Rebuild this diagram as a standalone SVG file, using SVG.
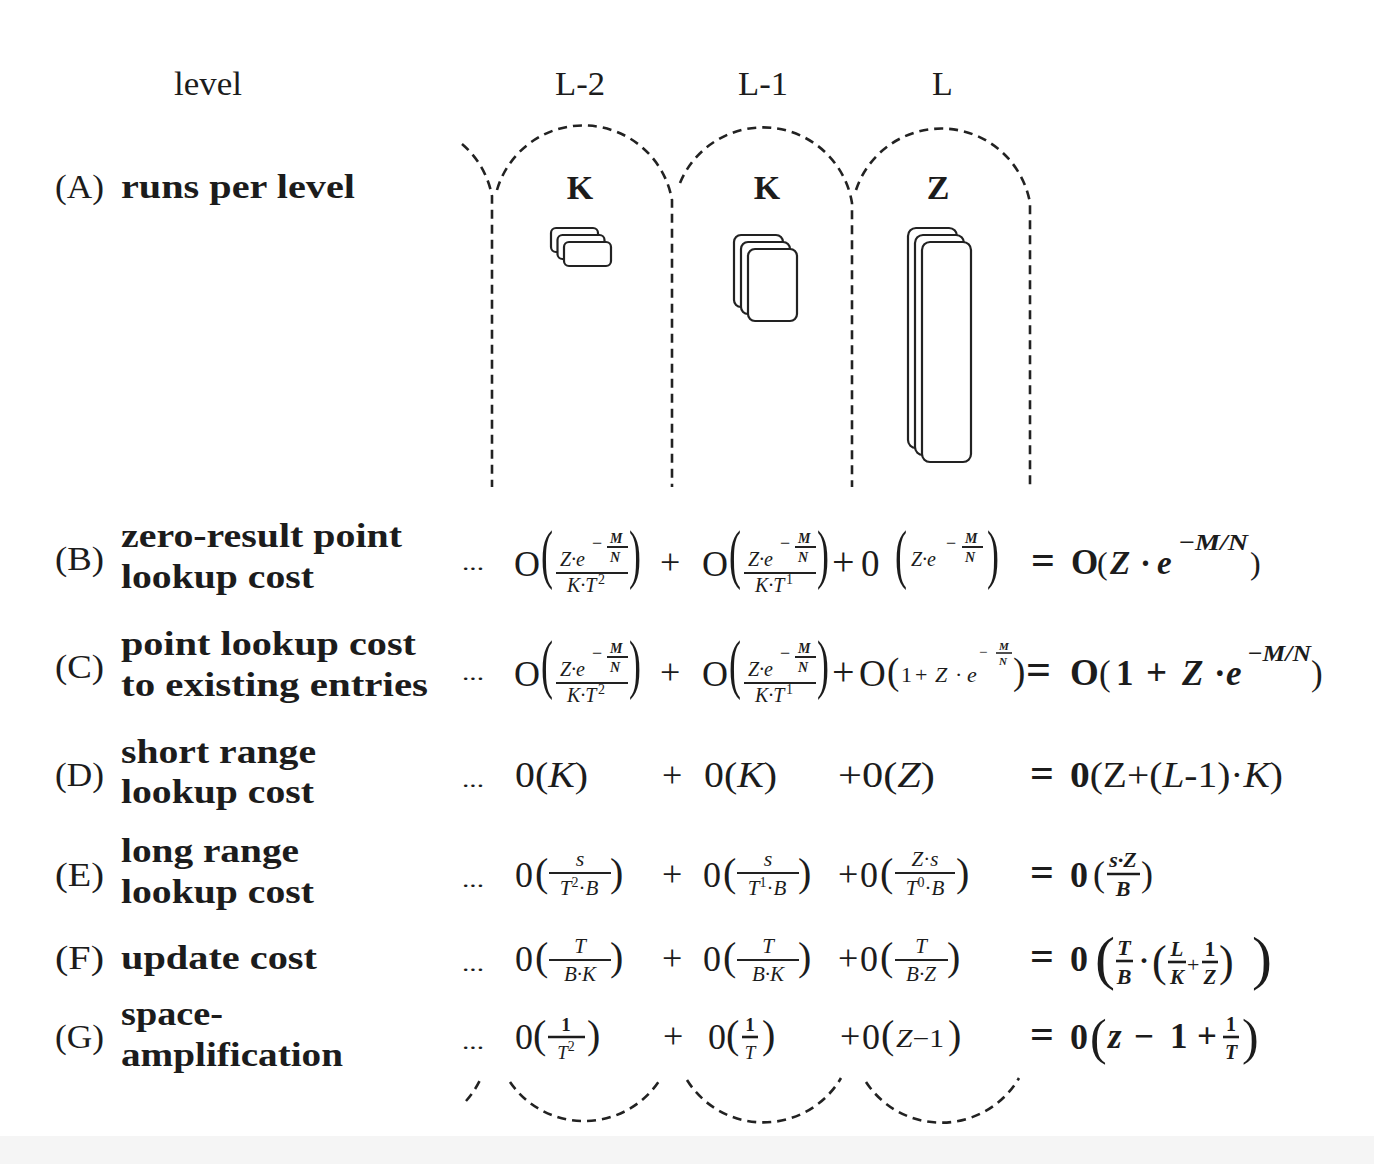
<svg xmlns="http://www.w3.org/2000/svg" width="1374" height="1164" viewBox="0 0 1374 1164">
<style>
text { font-family: "Liberation Serif", "DejaVu Serif", serif; fill: #1c1c1c; }
.lr { font-size: 34px; }
.lb { font-size: 34px; font-weight: bold; }
.hd { font-size: 34px; font-weight: bold; text-anchor: middle; }
.i { font-style: italic; }
.b { font-weight: bold; }
.mid { text-anchor: middle; }
.tp { font-size: 36px; }
.dash { fill: none; stroke: #222; stroke-width: 2.6; stroke-dasharray: 9 6; }
.run { fill: #fff; stroke: #222; stroke-width: 2.2; }
.bar { stroke: #222; stroke-width: 2; }
.bb { stroke: #1c1c1c; stroke-width: 2.6; }
</style>
<rect x="0" y="0" width="1374" height="1164" fill="#fff"/>
<rect x="0" y="1136" width="1374" height="28" fill="#f5f5f5"/>

<g id="boundaries">
  <path class="dash" d="M 462 144 A 90 90 0 0 1 492 196 V 487"/>
  <path class="dash" d="M 497 190 A 90 90 0 0 1 672 200 V 487"/>
  <path class="dash" d="M 680 183 A 90 90 0 0 1 852 203 V 487"/>
  <path class="dash" d="M 856 190 A 90 90 0 0 1 1030 203 V 487"/>
  <path class="dash" d="M 466 1101 A 90 90 0 0 0 481 1078"/>
  <path class="dash" d="M 510 1082 A 90 90 0 0 0 661 1078"/>
  <path class="dash" d="M 687 1080 A 90 90 0 0 0 841 1078"/>
  <path class="dash" d="M 866 1082 A 90 90 0 0 0 1019 1078"/>
</g>

<g id="header">
  <text class="lr" x="174" y="95" textLength="68" lengthAdjust="spacingAndGlyphs">level</text>
  <text class="lr" x="555" y="95" textLength="50" lengthAdjust="spacingAndGlyphs">L-2</text>
  <text class="lr" x="738" y="95" textLength="50" lengthAdjust="spacingAndGlyphs">L-1</text>
  <text class="lr" x="932" y="95">L</text>
</g>

<g id="col-L-2">
  <text class="hd" x="580" y="199">K</text>
  <rect class="run" x="551" y="228" width="47" height="24" rx="5"/>
  <rect class="run" x="557.5" y="235" width="47" height="24" rx="5"/>
  <rect class="run" x="564" y="242" width="47" height="24" rx="5"/>
</g>
<g id="col-L-1">
  <text class="hd" x="767" y="199">K</text>
  <rect class="run" x="734" y="235" width="49" height="72" rx="7"/>
  <rect class="run" x="741" y="242" width="49" height="72" rx="7"/>
  <rect class="run" x="748" y="249" width="49" height="72" rx="7"/>
</g>
<g id="col-L">
  <text class="hd" x="938" y="199">Z</text>
  <rect class="run" x="908" y="228" width="49" height="220" rx="8"/>
  <rect class="run" x="915" y="235" width="49" height="220" rx="8"/>
  <rect class="run" x="922" y="242" width="49" height="220" rx="8"/>
</g>

<g id="row-A">
  <text class="lr" x="55" y="198" textLength="49" lengthAdjust="spacingAndGlyphs">(A)</text>
  <text class="lb" x="121" y="198" textLength="234" lengthAdjust="spacingAndGlyphs">runs per level</text>
</g>

<g id="row-B">
  <text class="lr" x="55" y="570" textLength="49" lengthAdjust="spacingAndGlyphs">(B)</text>
  <text class="lb" x="121" y="547" textLength="281" lengthAdjust="spacingAndGlyphs">zero-result point</text>
  <text class="lb" x="121" y="588" textLength="193" lengthAdjust="spacingAndGlyphs">lookup cost</text>
  <text x="462" y="570" font-size="22" textLength="22" lengthAdjust="spacingAndGlyphs">...</text>
  <!-- term 1 -->
  <text x="514" y="576" font-size="36">O</text>
  <text class="tp" transform="translate(541,576) scale(1,1.8)">(</text>
  <text class="i" x="560" y="566" font-size="20">Z·e</text>
  <text x="592" y="549" font-size="18">−</text>
  <text class="i b" x="610" y="543" font-size="14">M</text>
  <line class="bar" x1="607" y1="547" x2="628" y2="547"/>
  <text class="i b" x="610" y="562" font-size="14">N</text>
  <line class="bar" x1="556" y1="573" x2="628" y2="573"/>
  <text class="i" x="567" y="592" font-size="20">K·T</text>
  <text x="598" y="584" font-size="14">2</text>
  <text class="tp" transform="translate(629,576) scale(1,1.8)">)</text>
  <text x="660" y="574" font-size="36">+</text>
  <!-- term 2 -->
  <text x="702" y="576" font-size="36">O</text>
  <text class="tp" transform="translate(729,576) scale(1,1.8)">(</text>
  <text class="i" x="748" y="566" font-size="20">Z·e</text>
  <text x="780" y="549" font-size="18">−</text>
  <text class="i b" x="798" y="543" font-size="14">M</text>
  <line class="bar" x1="795" y1="547" x2="816" y2="547"/>
  <text class="i b" x="798" y="562" font-size="14">N</text>
  <line class="bar" x1="744" y1="573" x2="816" y2="573"/>
  <text class="i" x="755" y="592" font-size="20">K·T</text>
  <text x="786" y="584" font-size="14">1</text>
  <text class="tp" transform="translate(817,576) scale(1,1.8)">)</text>
  <!-- term 3 -->
  <text x="832" y="575" font-size="40">+</text>
  <text x="861" y="576" font-size="37">0</text>
  <text class="tp" transform="translate(895,576) scale(1,1.8)">(</text>
  <text class="i" x="911" y="566" font-size="20">Z·e</text>
  <text x="946" y="549" font-size="18">−</text>
  <text class="i b" x="965" y="543" font-size="14">M</text>
  <line class="bar" x1="962" y1="547" x2="983" y2="547"/>
  <text class="i b" x="965" y="562" font-size="14">N</text>
  <text class="tp" transform="translate(987,576) scale(1,1.8)">)</text>
  <!-- result -->
  <text class="b" x="1031" y="574" font-size="42">=</text>
  <text class="b" x="1071" y="574" font-size="35">O</text>
  <text x="1097" y="574" font-size="32">(</text>
  <text class="i b" x="1110" y="574" font-size="33">Z</text>
  <text class="b" x="1140" y="574" font-size="33">·</text>
  <text class="i b" x="1157" y="574" font-size="33">e</text>
  <text class="i b" x="1178" y="550" font-size="23" textLength="70" lengthAdjust="spacingAndGlyphs">−M/N</text>
  <text x="1250" y="574" font-size="32">)</text>
</g>

<g id="row-C">
  <text class="lr" x="55" y="678" textLength="49" lengthAdjust="spacingAndGlyphs">(C)</text>
  <text class="lb" x="121" y="655" textLength="295" lengthAdjust="spacingAndGlyphs">point lookup cost</text>
  <text class="lb" x="121" y="696" textLength="307" lengthAdjust="spacingAndGlyphs">to existing entries</text>
  <text x="462" y="680" font-size="22" textLength="22" lengthAdjust="spacingAndGlyphs">...</text>
  <!-- term 1 -->
  <text x="514" y="686" font-size="36">O</text>
  <text class="tp" transform="translate(541,686) scale(1,1.8)">(</text>
  <text class="i" x="560" y="676" font-size="20">Z·e</text>
  <text x="592" y="659" font-size="18">−</text>
  <text class="i b" x="610" y="653" font-size="14">M</text>
  <line class="bar" x1="607" y1="657" x2="628" y2="657"/>
  <text class="i b" x="610" y="672" font-size="14">N</text>
  <line class="bar" x1="556" y1="683" x2="628" y2="683"/>
  <text class="i" x="567" y="702" font-size="20">K·T</text>
  <text x="598" y="694" font-size="14">2</text>
  <text class="tp" transform="translate(629,686) scale(1,1.8)">)</text>
  <text x="660" y="684" font-size="36">+</text>
  <!-- term 2 -->
  <text x="702" y="686" font-size="36">O</text>
  <text class="tp" transform="translate(729,686) scale(1,1.8)">(</text>
  <text class="i" x="748" y="676" font-size="20">Z·e</text>
  <text x="780" y="659" font-size="18">−</text>
  <text class="i b" x="798" y="653" font-size="14">M</text>
  <line class="bar" x1="795" y1="657" x2="816" y2="657"/>
  <text class="i b" x="798" y="672" font-size="14">N</text>
  <line class="bar" x1="744" y1="683" x2="816" y2="683"/>
  <text class="i" x="755" y="702" font-size="20">K·T</text>
  <text x="786" y="694" font-size="14">1</text>
  <text class="tp" transform="translate(817,686) scale(1,1.8)">)</text>
  <!-- term 3 -->
  <text x="832" y="685" font-size="40">+</text>
  <text x="859" y="686" font-size="37">O</text>
  <text x="887" y="684" font-size="37">(</text>
  <text x="901" y="682" font-size="22">1</text>
  <text x="915" y="682" font-size="22">+</text>
  <text class="i" x="935" y="682" font-size="22">Z</text>
  <text x="955" y="682" font-size="22">·</text>
  <text class="i" x="967" y="682" font-size="22">e</text>
  <text x="979" y="657" font-size="15">−</text>
  <text class="i b" x="999" y="650" font-size="11">M</text>
  <line x1="996" y1="653" x2="1012" y2="653" stroke="#222" stroke-width="1.6"/>
  <text class="i b" x="999" y="665" font-size="11">N</text>
  <text x="1013" y="684" font-size="37">)</text>
  <!-- result -->
  <text class="b" x="1026" y="684" font-size="44">=</text>
  <text class="b" x="1070" y="685" font-size="37">O</text>
  <text x="1099" y="685" font-size="35">(</text>
  <text class="b" x="1116" y="685" font-size="35">1</text>
  <text class="b" x="1146" y="685" font-size="37">+</text>
  <text class="i b" x="1182" y="685" font-size="35">Z</text>
  <text class="b" x="1214" y="685" font-size="35">·</text>
  <text class="i b" x="1226" y="685" font-size="35">e</text>
  <text class="i b" x="1247" y="661" font-size="23" textLength="64" lengthAdjust="spacingAndGlyphs">−M/N</text>
  <text x="1311" y="685" font-size="35">)</text>
</g>

<g id="row-D">
  <text class="lr" x="55" y="786" textLength="49" lengthAdjust="spacingAndGlyphs">(D)</text>
  <text class="lb" x="121" y="763" textLength="195" lengthAdjust="spacingAndGlyphs">short range</text>
  <text class="lb" x="121" y="803" textLength="193" lengthAdjust="spacingAndGlyphs">lookup cost</text>
  <text x="462" y="787" font-size="22" textLength="22" lengthAdjust="spacingAndGlyphs">...</text>
  <text x="515" y="787" font-size="36" textLength="73" lengthAdjust="spacingAndGlyphs">0(<tspan class="i">K</tspan>)</text>
  <text x="662" y="787" font-size="36">+</text>
  <text x="704" y="787" font-size="36" textLength="73" lengthAdjust="spacingAndGlyphs">0(<tspan class="i">K</tspan>)</text>
  <text x="838" y="787" font-size="36" textLength="97" lengthAdjust="spacingAndGlyphs">+0(<tspan class="i">Z</tspan>)</text>
  <text class="b" x="1030" y="787" font-size="42">=</text>
  <text x="1070" y="787" font-size="35" textLength="213" lengthAdjust="spacingAndGlyphs"><tspan class="b">0</tspan>(Z+(<tspan class="i">L</tspan>-1)·<tspan class="i">K</tspan>)</text>
</g>

<g id="row-E">
  <text class="lr" x="55" y="886" textLength="49" lengthAdjust="spacingAndGlyphs">(E)</text>
  <text class="lb" x="121" y="862" textLength="178" lengthAdjust="spacingAndGlyphs">long range</text>
  <text class="lb" x="121" y="903" textLength="193" lengthAdjust="spacingAndGlyphs">lookup cost</text>
  <text x="462" y="887" font-size="22" textLength="22" lengthAdjust="spacingAndGlyphs">...</text>
  <!-- term 1 -->
  <text x="515" y="887" font-size="36">0</text>
  <text x="535" y="886" font-size="40">(</text>
  <text class="i mid" x="580" y="866" font-size="22">s</text>
  <line class="bar" x1="549" y1="873" x2="611" y2="873"/>
  <text class="mid" x="579" y="895" font-size="21"><tspan class="i">T</tspan><tspan font-size="14" dy="-8">2</tspan><tspan dy="8">·</tspan><tspan class="i">B</tspan></text>
  <text x="610" y="886" font-size="40">)</text>
  <text x="662" y="886" font-size="36">+</text>
  <!-- term 2 -->
  <text x="703" y="887" font-size="36">0</text>
  <text x="723" y="886" font-size="40">(</text>
  <text class="i mid" x="768" y="866" font-size="22">s</text>
  <line class="bar" x1="737" y1="873" x2="799" y2="873"/>
  <text class="mid" x="767" y="895" font-size="21"><tspan class="i">T</tspan><tspan font-size="14" dy="-8">1</tspan><tspan dy="8">·</tspan><tspan class="i">B</tspan></text>
  <text x="798" y="886" font-size="40">)</text>
  <!-- term 3 -->
  <text x="838" y="886" font-size="36">+</text>
  <text x="860" y="887" font-size="36">0</text>
  <text x="880" y="886" font-size="40">(</text>
  <text class="mid" x="925" y="866" font-size="21"><tspan class="i">Z</tspan>·<tspan class="i">s</tspan></text>
  <line class="bar" x1="895" y1="873" x2="955" y2="873"/>
  <text class="mid" x="925" y="895" font-size="21"><tspan class="i">T</tspan><tspan font-size="14" dy="-8">0</tspan><tspan dy="8">·</tspan><tspan class="i">B</tspan></text>
  <text x="956" y="886" font-size="40">)</text>
  <!-- result -->
  <text class="b" x="1030" y="886" font-size="42">=</text>
  <text class="b" x="1070" y="887" font-size="36">0</text>
  <text x="1093" y="886" font-size="36">(</text>
  <text class="i b mid" x="1123" y="867" font-size="22">s·Z</text>
  <line class="bb" x1="1107" y1="874" x2="1140" y2="874"/>
  <text class="i b mid" x="1123" y="896" font-size="22">B</text>
  <text x="1141" y="886" font-size="36">)</text>
</g>

<g id="row-F">
  <text class="lr" x="55" y="969" textLength="49" lengthAdjust="spacingAndGlyphs">(F)</text>
  <text class="lb" x="121" y="969" textLength="196" lengthAdjust="spacingAndGlyphs">update cost</text>
  <text x="462" y="971" font-size="22" textLength="22" lengthAdjust="spacingAndGlyphs">...</text>
  <!-- term 1 -->
  <text x="515" y="971" font-size="36">0</text>
  <text x="535" y="970" font-size="40">(</text>
  <text class="i mid" x="580" y="953" font-size="21">T</text>
  <line class="bar" x1="549" y1="960" x2="611" y2="960"/>
  <text class="i mid" x="580" y="981" font-size="21">B·K</text>
  <text x="610" y="970" font-size="40">)</text>
  <text x="662" y="970" font-size="36">+</text>
  <!-- term 2 -->
  <text x="703" y="971" font-size="36">0</text>
  <text x="723" y="970" font-size="40">(</text>
  <text class="i mid" x="768" y="953" font-size="21">T</text>
  <line class="bar" x1="737" y1="960" x2="799" y2="960"/>
  <text class="i mid" x="768" y="981" font-size="21">B·K</text>
  <text x="798" y="970" font-size="40">)</text>
  <!-- term 3 -->
  <text x="838" y="970" font-size="36">+</text>
  <text x="860" y="971" font-size="36">0</text>
  <text x="880" y="970" font-size="40">(</text>
  <text class="i mid" x="921" y="953" font-size="21">T</text>
  <line class="bar" x1="895" y1="960" x2="948" y2="960"/>
  <text class="i mid" x="921" y="981" font-size="21">B·Z</text>
  <text x="947" y="970" font-size="40">)</text>
  <!-- result -->
  <text class="b" x="1030" y="970" font-size="42">=</text>
  <text class="b" x="1070" y="971" font-size="36">0</text>
  <text x="1095" y="978" font-size="60">(</text>
  <text class="i b mid" x="1124" y="955" font-size="22">T</text>
  <line class="bb" x1="1116" y1="961" x2="1133" y2="961"/>
  <text class="i b mid" x="1124" y="984" font-size="22">B</text>
  <text class="b" x="1139" y="970" font-size="30">·</text>
  <text x="1152" y="976" font-size="44">(</text>
  <text class="i b mid" x="1177" y="956" font-size="21">L</text>
  <line class="bb" x1="1168" y1="962" x2="1186" y2="962"/>
  <text class="i b mid" x="1177" y="984" font-size="21">K</text>
  <text x="1187" y="972" font-size="22">+</text>
  <text class="b mid" x="1210" y="956" font-size="21">1</text>
  <line class="bb" x1="1202" y1="962" x2="1218" y2="962"/>
  <text class="i b mid" x="1210" y="984" font-size="21">Z</text>
  <text x="1219" y="976" font-size="44">)</text>
  <text x="1252" y="978" font-size="60">)</text>
</g>

<g id="row-G">
  <text class="lr" x="55" y="1048" textLength="49" lengthAdjust="spacingAndGlyphs">(G)</text>
  <text class="lb" x="121" y="1025" textLength="102" lengthAdjust="spacingAndGlyphs">space-</text>
  <text class="lb" x="121" y="1066" textLength="222" lengthAdjust="spacingAndGlyphs">amplification</text>
  <text x="462" y="1049" font-size="22" textLength="22" lengthAdjust="spacingAndGlyphs">...</text>
  <!-- term 1 -->
  <text x="515" y="1049" font-size="36">0</text>
  <text x="533" y="1048" font-size="40">(</text>
  <text class="b mid" x="566" y="1031" font-size="19">1</text>
  <line class="bb" x1="548" y1="1037" x2="585" y2="1037"/>
  <text class="mid" x="566" y="1059" font-size="19"><tspan class="i">T</tspan><tspan font-size="14" dy="-8">2</tspan></text>
  <text x="587" y="1048" font-size="40">)</text>
  <text x="663" y="1048" font-size="36">+</text>
  <!-- term 2 -->
  <text x="708" y="1049" font-size="36">0</text>
  <text x="726" y="1048" font-size="40">(</text>
  <text class="b mid" x="750" y="1031" font-size="19">1</text>
  <line class="bb" x1="742" y1="1037" x2="758" y2="1037"/>
  <text class="i mid" x="750" y="1059" font-size="19">T</text>
  <text x="762" y="1048" font-size="40">)</text>
  <!-- term 3 -->
  <text x="840" y="1048" font-size="36">+</text>
  <text x="862" y="1049" font-size="36">0</text>
  <text x="881" y="1048" font-size="40">(</text>
  <text x="896" y="1047" font-size="25" textLength="48" lengthAdjust="spacingAndGlyphs"><tspan class="i">Z</tspan>−1</text>
  <text x="948" y="1048" font-size="40">)</text>
  <!-- result -->
  <text class="b" x="1030" y="1048" font-size="42">=</text>
  <text class="b" x="1070" y="1049" font-size="36">0</text>
  <text x="1090" y="1054" font-size="50">(</text>
  <text class="i b" x="1108" y="1048" font-size="35">z</text>
  <text class="b" x="1134" y="1048" font-size="35">−</text>
  <text class="b" x="1170" y="1048" font-size="35">1</text>
  <text class="b" x="1197" y="1048" font-size="35">+</text>
  <text class="b mid" x="1231" y="1031" font-size="20">1</text>
  <line class="bb" x1="1223" y1="1037" x2="1239" y2="1037"/>
  <text class="i b mid" x="1231" y="1059" font-size="20">T</text>
  <text x="1242" y="1054" font-size="50">)</text>
</g>
</svg>
